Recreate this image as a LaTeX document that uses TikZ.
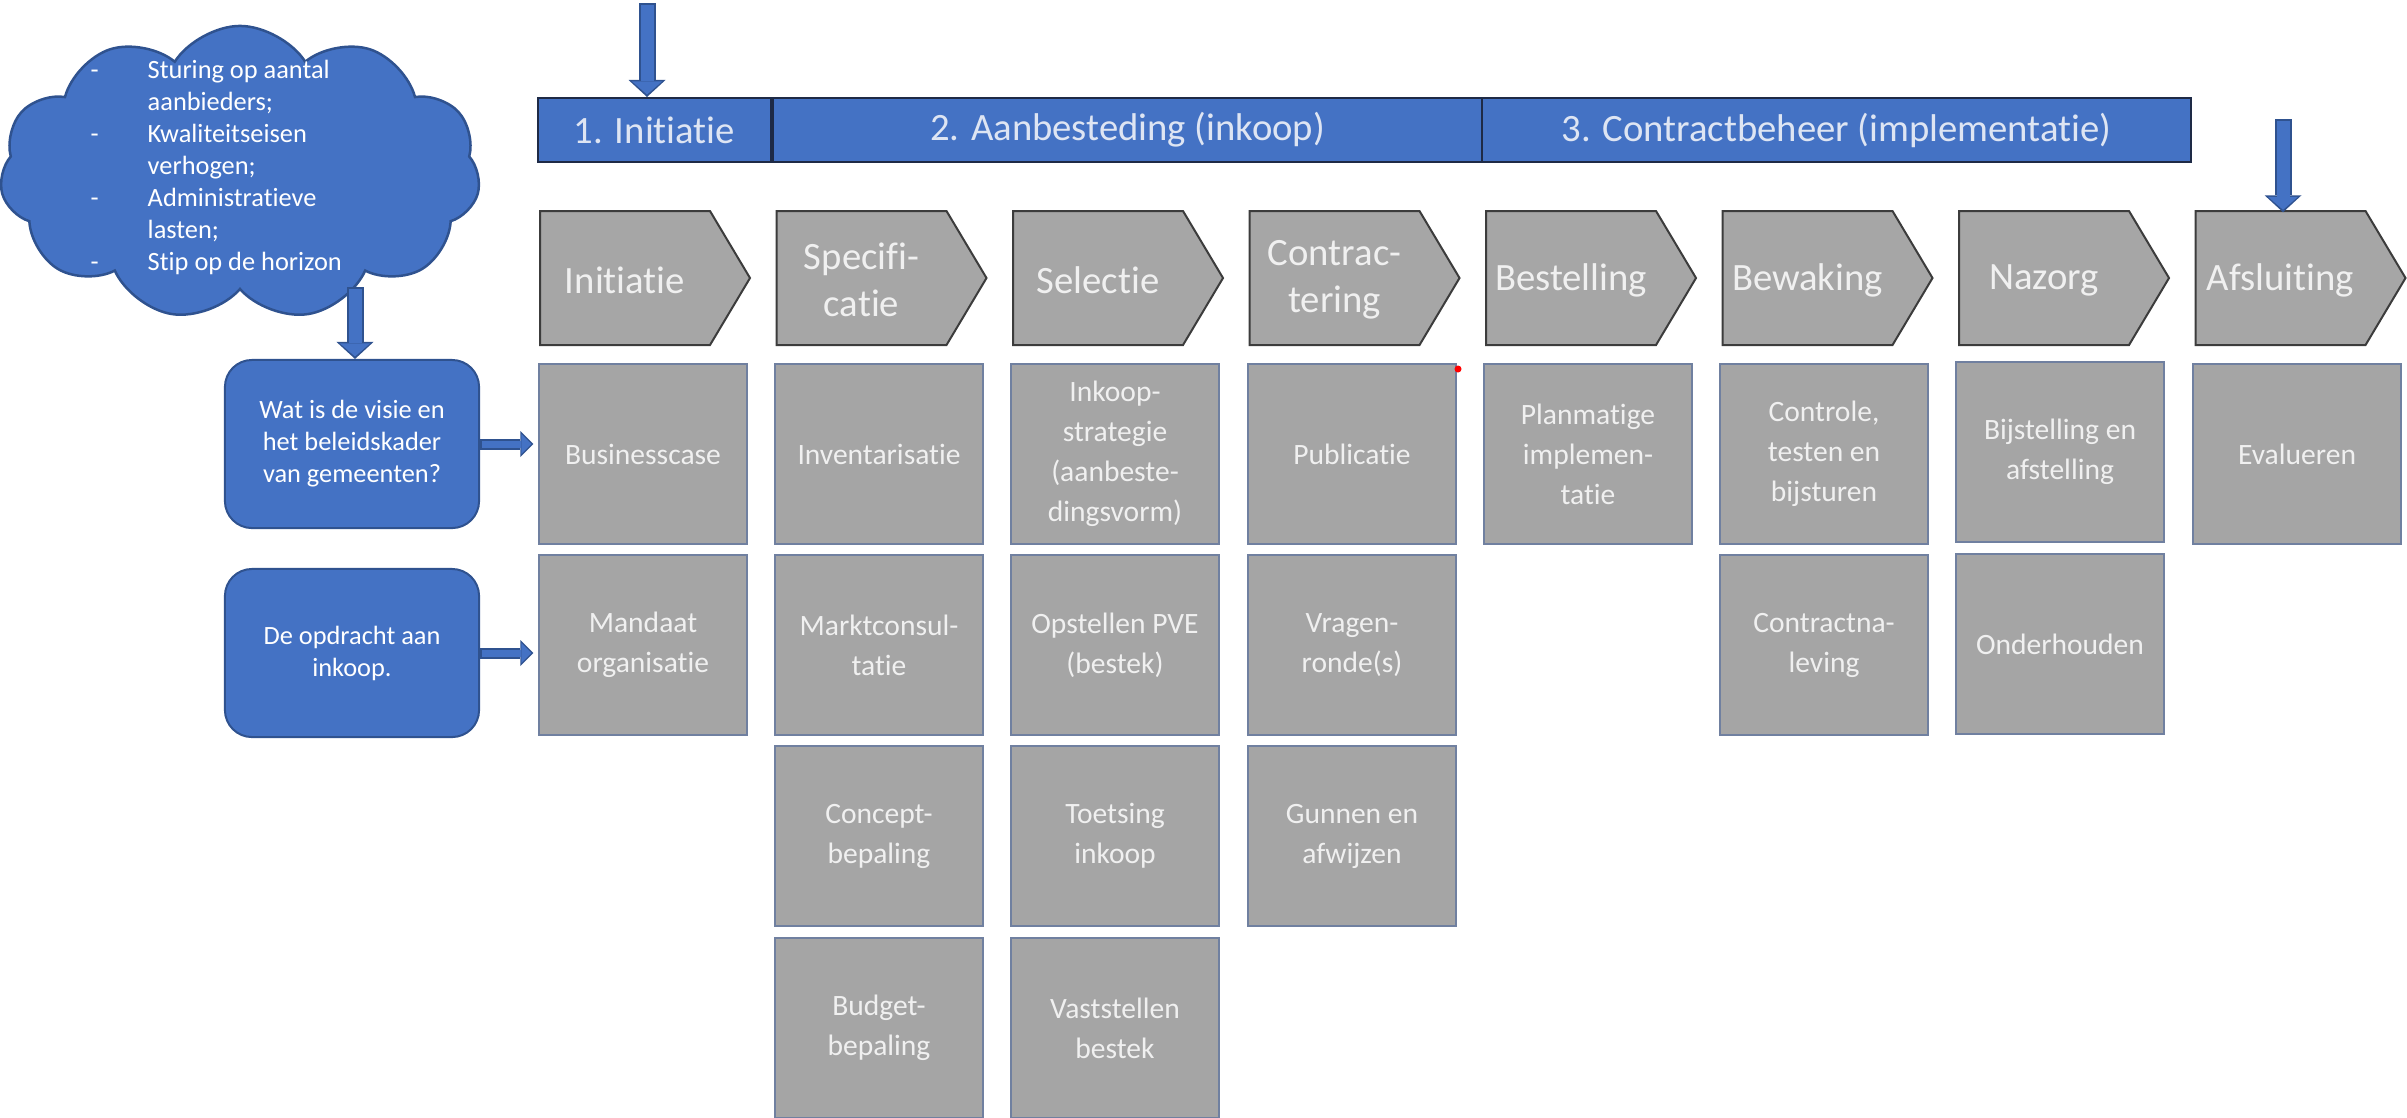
\documentclass[tikz,border=0pt]{standalone}
\usepackage{fontspec}
\setmainfont{Carlito}[Ligatures=NoCommon]
\usetikzlibrary{shapes.symbols,arrows.meta}
\definecolor{offblue}{RGB}{68,114,196}
\definecolor{offedge}{RGB}{47,82,143}
\definecolor{baredge}{RGB}{30,42,70}
\definecolor{chevgray}{RGB}{166,166,166}
\definecolor{chevedge}{RGB}{60,60,60}
\definecolor{boxgray}{RGB}{165,165,165}
\definecolor{boxedge}{RGB}{112,128,160}
\definecolor{softwhite}{RGB}{240,240,240}
\definecolor{barwhite}{RGB}{222,229,243}
\newcommand{\dashitem}{\makebox[0.57cm][l]{-}}
\newcommand{\dashgap}{\hspace*{0.57cm}}

\tikzset{
  phase/.style={draw=baredge, line width=0.02cm, fill=offblue, text=barwhite,
    minimum height=0.64cm, inner sep=0pt, font=\fontsize{11}{13}\selectfont},
  chevshape/.style={draw=chevedge, line width=0.02cm, fill=chevgray},
  chevtext/.style={minimum width=1.7cm, minimum height=1.34cm, inner sep=0pt,
    align=center, text=softwhite, font=\fontsize{11}{13.4}\selectfont},
  task/.style={draw=boxedge, line width=0.02cm, fill=boxgray, minimum width=2.07cm,
    minimum height=1.8cm, inner sep=0pt, align=center, text=softwhite,
    font=\fontsize{8.4}{11.4}\selectfont},
  question/.style={draw=offedge, line width=0.02cm, fill=offblue, rounded corners=0.27cm,
    minimum width=2.54cm, minimum height=1.68cm, align=center, text=white,
    font=\fontsize{7.5}{9.1}\selectfont},
  cloudtext/.style={align=left, text=white, inner sep=0pt, font=\fontsize{7.5}{9.1}\selectfont},
  bigrim/.style={draw=offedge, line width=0.17cm,
    -{Triangle[length=0.17cm, width=0.37cm, line width=0pt]}},
  bigcore/.style={draw=offblue, line width=0.13cm, shorten >=0.025cm, shorten <=0.02cm,
    -{Triangle[length=0.13cm, width=0.30cm, line width=0pt]}},
  smallrim/.style={draw=offedge, line width=0.11cm, shorten >=0.05cm,
    -{Triangle[length=0.13cm, width=0.26cm, line width=0pt]}},
  smallcore/.style={draw=offblue, line width=0.07cm, shorten >=0.07cm, shorten <=0.02cm,
    -{Triangle[length=0.10cm, width=0.20cm, line width=0pt]}},
}

\begin{document}
\begin{tikzpicture}[x=0.01cm, y=-0.01cm]
\useasboundingbox (0,0) rectangle (2407,1117);

% Phases
\node[phase, minimum width=2.33cm] (ph1) at (654.5,130) {1. Initiatie};
\node[phase, minimum width=7.09cm] (ph2) at (1127.5,130) {2. Aanbesteding (inkoop)};
\node[phase, minimum width=7.09cm] (ph3) at (1836.5,130) {3. Contractbeheer (implementatie)};

% Process steps
\foreach \i/\name in {1/Initiatie, 2/{Specifi-\\catie}, 3/Selectie, 4/{Contrac-\\tering},
    5/Bestelling, 6/Bewaking, 7/Nazorg, 8/Afsluiting} {
  \draw[chevshape] ({540+236.5*(\i-1)},211) -- ++(170,0) -- ++(40,67) -- ++(-40,67) -- ++(-170,0) -- cycle;
  \node[chevtext] (chev\i) at ({625+236.5*(\i-1)},280) {\name};
}

% Row 1
\node[task] (busc) at (643,454) {Businesscase};
\node[task] (inv) at (879,454) {Inventarisatie};
\node[task] (strat) at (1115,454) {Inkoop-\\strategie\\(aanbeste-\\dingsvorm)};
\node[task] (publ) at (1352,454) {Publicatie};
\node[task] (plan) at (1588,454) {Planmatige\\implemen-\\tatie};
\node[task] (ctrl) at (1824,454) {Controle,\\testen en\\bijsturen};
\node[task] (bijst) at (2060,452) {Bijstelling en\\afstelling};
\node[task] (eval) at (2297,454) {Evalueren};
% Row 2
\node[task] (mand) at (643,645) {Mandaat\\organisatie};
\node[task] (markt) at (879,645) {Marktconsul-\\tatie};
\node[task] (pve) at (1115,645) {Opstellen PVE\\(bestek)};
\node[task] (vragen) at (1352,645) {Vragen-\\ronde(s)};
\node[task] (naleving) at (1824,645) {Contractna-\\leving};
\node[task] (onderh) at (2060,644) {Onderhouden};
% Row 3
\node[task] (concept) at (879,836) {Concept-\\bepaling};
\node[task] (toets) at (1115,836) {Toetsing\\inkoop};
\node[task] (gunnen) at (1352,836) {Gunnen en\\afwijzen};
% Row 4
\node[task] (budget) at (879,1028) {Budget-\\bepaling};
\node[task] (vastst) at (1115,1028) {Vaststellen\\bestek};

\fill[red] (1458,369) circle (0.035cm);

% Cloud with themes
\node[cloud, cloud puffs=11, cloud puff arc=115, aspect=1.63, draw=offedge, line width=0.025cm,
  fill=offblue, minimum width=4.8cm, minimum height=2.94cm] (cloud) at (240,173) {};
\node[cloudtext, anchor=north west] (themes) at (90,59) {\dashitem Sturing op aantal\\
  \dashgap aanbieders;\\
  \dashitem Kwaliteitseisen\\
  \dashgap verhogen;\\
  \dashitem Administratieve\\
  \dashgap lasten;\\
  \dashitem Stip op de horizon};

% Questions
\node[question] (wat) at (352,444) {Wat is de visie en\\het beleidskader\\van gemeenten?};
\node[question] (opdr) at (352,653) {De opdracht aan\\inkoop.};

% Arrows
\coordinate (startmark) at (647,3);
\coordinate (endmark) at (2283,119);
\coordinate (cloudfoot) at (355,287);
\draw[bigrim] (startmark) -- (startmark |- ph1.north);
\draw[bigcore] (startmark) -- (startmark |- ph1.north);
\draw[bigrim] (endmark) -- (endmark |- chev8.north);
\draw[bigcore] (endmark) -- (endmark |- chev8.north);
\draw[bigrim] (cloudfoot) -- (cloudfoot |- wat.north);
\draw[bigcore] (cloudfoot) -- (cloudfoot |- wat.north);
\draw[smallrim] (wat.east) -- (wat.east -| busc.west);
\draw[smallcore] (wat.east) -- (wat.east -| busc.west);
\draw[smallrim] (opdr.east) -- (opdr.east -| mand.west);
\draw[smallcore] (opdr.east) -- (opdr.east -| mand.west);
\end{tikzpicture}
\end{document}
